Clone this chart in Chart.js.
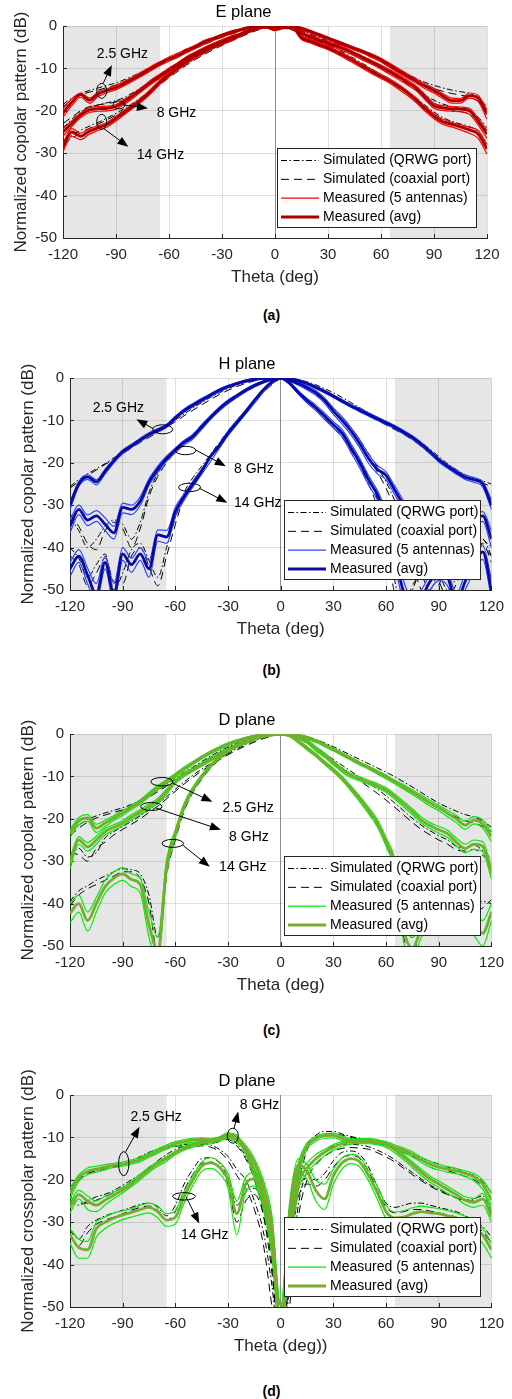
<!DOCTYPE html>
<html lang="en">
<head>
  <meta charset="UTF-8">
  <title>Radiation patterns</title>
  <script src="https://cdn.jsdelivr.net/npm/chart.js"></script>
  <style>
    body { margin: 0; background: #fff; }
    .wrap { position: relative; width: 512px; height: 1399px; }
    .wrap canvas { position: absolute; left: 0; }
    .cap { position: absolute; left: 271.5px; transform: translate(-50%, -50%);
           font: bold 14px 'Liberation Sans', Arial, sans-serif; color: #000; }
  </style>
</head>
<body>
<div class="wrap">
  <canvas id="planeE" width="512" height="288" style="top:0px"></canvas>
  <div class="cap" style="top:315px">(a)</div>
  <canvas id="planeH" width="512" height="288" style="top:352px"></canvas>
  <div class="cap" style="top:670px">(b)</div>
  <canvas id="planeD" width="512" height="288" style="top:708px"></canvas>
  <div class="cap" style="top:1030px">(c)</div>
  <canvas id="planeX" width="512" height="288" style="top:1069px"></canvas>
  <div class="cap" style="top:1391px">(d)</div>
</div>
<script>
// angles (deg)
var theta = [-120,-115,-110,-105,-100,-95,-90,-85,-80,-75,
  -70,-65,-60,-55,-50,-45,-40,-35,-30,-25,
  -20,-15,-10,-5,0,5,10,15,20,25,
  30,35,40,45,50,55,60,65,70,75,
  80,85,90,95,100,105,110,115,120];

// ---- E plane, copolar (dB) ----
var eQ25 = [-18.5,-17,-15.9,-15.2,-14.6,-14,-13.4,-12.6,-11.7,-10.7,
  -9.7,-8.7,-7.8,-6.8,-5.9,-5,-4.1,-3.3,-2.5,-1.8,
  -1.1,-0.6,-0.2,0,0,0,-0.2,-0.6,-1.2,-1.9,
  -2.7,-3.5,-4.3,-5.1,-6,-6.9,-7.9,-9,-10.2,-11.3,
  -12.4,-13.3,-14,-14.6,-15.1,-15.5,-15.9,-17,-19];
var eC25 = [-19,-17.5,-16.3,-15.6,-15.1,-14.5,-13.9,-13.1,-12.1,-11.1,
  -10.1,-9.1,-8.1,-7.1,-6.2,-5.3,-4.4,-3.5,-2.7,-2,
  -1.3,-0.8,-0.3,-0.1,0,-0.1,-0.3,-0.8,-1.4,-2.1,
  -2.9,-3.7,-4.5,-5.4,-6.3,-7.3,-8.3,-9.5,-10.7,-11.9,
  -13,-14,-14.8,-15.4,-15.9,-16.3,-16.8,-17.8,-19.8];
var eHi25 = [-19.6,-17.2,-15.8,-17,-15.5,-14.8,-14,-13,-11.9,-10.7,
  -9.5,-8.4,-7.3,-6.4,-5.4,-4.5,-3.4,-2.7,-1.9,-1.2,
  -0.7,-0.2,0,0,-0.1,0,0,-0.3,-1,-1.8,
  -2.6,-3.4,-4.2,-5,-5.8,-6.6,-7.6,-8.8,-10.1,-11.3,
  -12.5,-13.7,-14.7,-16,-17,-17.1,-15.8,-16.4,-19.8];
var eLo25 = [-21.5,-18.8,-16.8,-18.2,-16.6,-15.7,-15,-14,-12.9,-11.7,
  -10.5,-9.3,-8.3,-7.4,-6.3,-5.3,-4.3,-3.4,-2.6,-1.9,
  -1.2,-0.7,-0.4,-0.3,-0.6,-0.5,-0.3,-1,-1.7,-2.5,
  -3.3,-4.1,-4.9,-5.7,-6.5,-7.5,-8.5,-9.8,-11.1,-12.3,
  -13.5,-14.8,-15.8,-17.1,-18.2,-18.2,-17,-17.8,-22];
var eAvg25 = [-20.5,-18,-16.2,-17.5,-16,-15.2,-14.5,-13.5,-12.4,-11.2,
  -10,-8.8,-7.8,-6.9,-5.8,-4.9,-3.8,-3,-2.2,-1.5,
  -0.9,-0.4,-0.1,0,-0.3,-0.2,0,-0.6,-1.3,-2.1,
  -2.9,-3.7,-4.5,-5.3,-6.1,-7,-8,-9.3,-10.6,-11.8,
  -13,-14.2,-15.2,-16.5,-17.6,-17.6,-16.4,-17,-20.8];

var eQ8 = [-24,-22,-20.3,-19.2,-18.6,-18.1,-17.6,-16.8,-15.6,-14.3,
  -12.8,-11.3,-10,-8.8,-7.5,-6.3,-5.3,-4.3,-3.4,-2.6,
  -1.8,-1.1,-0.5,-0.1,0,-0.1,-0.5,-1.1,-1.9,-2.7,
  -3.5,-4.3,-5.2,-6.2,-7.2,-8.3,-9.4,-10.6,-11.9,-13.3,
  -14.8,-16.3,-17.5,-18.4,-19,-19.4,-20,-21.5,-24];
var eC8 = [-23,-21.5,-20,-19,-18.6,-18.3,-17.9,-17.2,-16,-14.7,
  -13.2,-11.7,-10.3,-9,-7.8,-6.6,-5.5,-4.5,-3.6,-2.7,
  -1.9,-1.2,-0.6,-0.2,0,-0.2,-0.6,-1.3,-2.1,-2.9,
  -3.7,-4.6,-5.5,-6.5,-7.5,-8.6,-9.8,-11,-12.3,-13.7,
  -15.2,-16.8,-18.2,-19.2,-19.8,-20.2,-20.8,-22.3,-25];
var eHi8 = [-24.2,-22.4,-20.5,-19.3,-19,-18.9,-18.5,-17.3,-15.8,-14.3,
  -12.7,-11.3,-9.9,-8.6,-7.2,-6.1,-5,-4.1,-3.2,-2.4,
  -1.7,-0.9,-0.3,0,-0.3,0,-0.1,-1.4,-2.2,-3,
  -3.7,-4.4,-5.2,-6.2,-7.2,-8.2,-9.2,-10.3,-11.5,-12.8,
  -14.2,-16.2,-18.2,-18.8,-19,-19.1,-19.4,-21.8,-24.6];
var eLo8 = [-26,-23.7,-21.6,-20.4,-20.1,-20,-19.6,-18.4,-16.9,-15.3,
  -13.7,-12.3,-10.9,-9.5,-8.1,-7,-5.9,-5,-4.1,-3.2,
  -2.4,-1.5,-0.8,-0.4,-0.9,-0.5,-0.6,-2.3,-3.1,-3.9,
  -4.6,-5.3,-6.1,-7.1,-8.1,-9.1,-10.2,-11.4,-12.6,-13.9,
  -15.3,-17.4,-19.4,-19.9,-20.1,-20.2,-20.8,-23.3,-26.5];
var eAvg8 = [-25,-23,-21,-19.8,-19.5,-19.4,-19,-17.8,-16.3,-14.8,
  -13.2,-11.8,-10.4,-9,-7.6,-6.5,-5.4,-4.5,-3.6,-2.8,
  -2,-1.2,-0.5,-0.1,-0.6,-0.2,-0.3,-1.8,-2.6,-3.4,
  -4.1,-4.8,-5.6,-6.6,-7.6,-8.6,-9.7,-10.8,-12,-13.3,
  -14.7,-16.8,-18.8,-19.3,-19.5,-19.6,-20,-22.5,-25.5];

var eQ14 = [-27,-25.8,-24.6,-23.6,-22.7,-21.7,-20.6,-19.4,-18.1,-16.6,
  -15,-13.4,-11.8,-10.3,-8.9,-7.6,-6.4,-5.3,-4.3,-3.3,
  -2.4,-1.5,-0.8,-0.3,0,-0.3,-0.8,-1.6,-2.5,-3.4,
  -4.4,-5.4,-6.5,-7.7,-8.9,-10.2,-11.5,-12.8,-14.1,-15.5,
  -17,-18.7,-20.3,-21.6,-22.5,-23.1,-23.7,-24.8,-27.5];
var eC14 = [-28,-26.5,-25.2,-24.1,-23.1,-22.1,-21,-19.8,-18.5,-17,
  -15.4,-13.8,-12.2,-10.7,-9.2,-7.9,-6.7,-5.6,-4.6,-3.6,
  -2.7,-1.8,-1,-0.4,-0.1,-0.4,-1,-1.9,-2.8,-3.7,
  -4.7,-5.7,-6.8,-8,-9.3,-10.6,-11.9,-13.2,-14.5,-15.9,
  -17.4,-19.1,-20.8,-22.1,-23,-23.7,-24.4,-25.6,-28.5];
var eHi14 = [-27.6,-24.2,-25.3,-24.2,-23.5,-22.7,-21.3,-19.8,-18.3,-16.7,
  -14.8,-12.7,-11,-9.4,-8,-6.7,-5.6,-4.5,-3.6,-2.8,
  -1.8,-0.9,-0.3,0,-0.5,-0.1,-0.2,-2.4,-3.2,-4,
  -4.8,-5.8,-6.8,-8,-9.2,-10.3,-11.4,-12.5,-13.8,-15.3,
  -17,-19,-20.7,-22,-22.7,-23.3,-23.9,-24.7,-28];
var eLo14 = [-29.6,-26,-26.8,-25.5,-24.6,-23.8,-22.4,-20.8,-19.3,-17.7,
  -15.8,-13.7,-12,-10.4,-8.9,-7.6,-6.4,-5.3,-4.4,-3.6,
  -2.6,-1.6,-0.8,-0.5,-1.1,-0.6,-0.7,-3.2,-4,-4.8,
  -5.6,-6.6,-7.7,-8.9,-10.1,-11.3,-12.4,-13.5,-14.9,-16.4,
  -18.1,-20.1,-21.9,-23.2,-23.8,-24.5,-25.3,-26.5,-30.2];
var eAvg14 = [-28.5,-25,-26,-24.8,-24,-23.2,-21.8,-20.3,-18.8,-17.2,
  -15.3,-13.2,-11.5,-9.9,-8.4,-7.1,-6,-4.9,-4,-3.2,
  -2.2,-1.2,-0.5,-0.2,-0.8,-0.3,-0.4,-2.8,-3.6,-4.4,
  -5.2,-6.2,-7.2,-8.4,-9.6,-10.8,-11.9,-13,-14.3,-15.8,
  -17.5,-19.5,-21.3,-22.6,-23.2,-23.8,-24.5,-25.5,-29];

// ---- H plane, copolar (dB) ----
var hQ25 = [-25.6,-24,-22.6,-21.4,-20.2,-18.8,-17.5,-16.2,-14.9,-13.7,
  -12.5,-11.3,-9.9,-8.5,-7.1,-5.8,-4.6,-3.5,-2.5,-1.7,
  -1,-0.5,-0.2,0,0,-0.1,-0.4,-0.9,-1.6,-2.5,
  -3.5,-4.6,-5.8,-7,-8.2,-9.3,-10.4,-11.5,-12.6,-13.8,
  -15.2,-16.8,-18.5,-20.2,-21.6,-22.8,-23.7,-24.3,-25];
var hC25 = [-26,-24.4,-23,-21.7,-20.4,-19.1,-17.8,-16.5,-15.2,-14,
  -12.8,-11.6,-10.3,-8.9,-7.6,-6.3,-5.1,-3.9,-2.9,-2,
  -1.3,-0.7,-0.3,-0.1,0,-0.2,-0.6,-1.2,-2,-3,
  -4.1,-5.3,-6.5,-7.7,-8.9,-10,-11.1,-12.2,-13.3,-14.6,
  -16.1,-17.8,-19.6,-21.2,-22.3,-23.2,-24,-24.8,-25.6];
var hHi25 = [-29.2,-24.4,-22.8,-24,-21.5,-19.1,-17,-15.6,-14.2,-12.9,
  -11.9,-10.9,-9,-7.3,-6,-4.8,-3.7,-2.6,-1.7,-1.1,
  -0.5,-0.1,0,0,0,0,-0.4,-1.1,-1.9,-2.9,
  -4,-5.1,-6.2,-7.2,-8.2,-9.2,-10.2,-11.2,-12.4,-13.6,
  -15.2,-17,-18.9,-20.4,-21.7,-22.9,-23.5,-24.4,-28.8];
var hLo25 = [-31,-25.6,-23.9,-25.2,-22.6,-20,-17.9,-16.4,-15,-13.7,
  -12.7,-11.7,-9.8,-8.1,-6.8,-5.6,-4.4,-3.3,-2.3,-1.6,
  -1,-0.5,-0.3,-0.2,-0.2,-0.4,-0.9,-1.6,-2.5,-3.5,
  -4.6,-5.8,-6.9,-8,-9,-10,-11,-12,-13.2,-14.5,
  -16.1,-17.9,-19.8,-21.3,-22.7,-23.9,-24.6,-25.7,-31];
var hAvg25 = [-30,-25,-23.3,-24.5,-22,-19.5,-17.4,-16,-14.6,-13.3,
  -12.3,-11.3,-9.4,-7.7,-6.4,-5.2,-4,-2.9,-2,-1.3,
  -0.7,-0.3,-0.1,0,0,-0.2,-0.6,-1.3,-2.2,-3.2,
  -4.3,-5.5,-6.6,-7.6,-8.6,-9.6,-10.6,-11.6,-12.8,-14,
  -15.6,-17.4,-19.3,-20.8,-22.2,-23.4,-24,-25,-30];

var hQ8 = [-33,-36,-40,-38,-35,-33.5,-34.5,-38,-34,-27,
  -22.5,-19.5,-17,-15,-13.2,-11.2,-9.2,-7.3,-5.6,-4.1,
  -2.8,-1.7,-0.8,-0.2,0,-0.3,-1.1,-2.1,-3.4,-5,
  -7,-9.3,-11.8,-14.6,-17.8,-21,-24.5,-29,-34,-40,
  -46,-50,-45,-41,-39,-37.5,-37,-38,-40];
var hC8 = [-32,-35,-39,-40.5,-36,-34,-35.5,-40,-35.5,-28,
  -23.2,-20,-17.4,-15.3,-13.4,-11.4,-9.4,-7.5,-5.8,-4.3,
  -3,-1.9,-1,-0.4,-0.1,-0.5,-1.3,-2.4,-3.8,-5.5,
  -7.6,-10,-12.6,-15.5,-18.8,-22.2,-26,-31,-37,-44,
  -50,-53,-49,-43,-40.5,-39,-38.5,-39.5,-42];
var hHi8 = [-33.5,-30,-32.3,-31.3,-33,-35,-29.5,-30,-28,-23.8,
  -20.8,-18.4,-16.5,-14.7,-13.3,-11,-8.9,-6.9,-5.2,-3.9,
  -2.6,-1.5,-0.7,-0.1,0,-0.3,-1,-1.9,-3,-4.7,
  -7.1,-9.2,-11.7,-14.6,-18,-20.6,-22.2,-25.5,-29,-31.8,
  -34.5,-36.5,-39,-41.5,-40,-36.5,-32.8,-31.5,-36];
var hLo8 = [-36.5,-32.2,-34.8,-33.8,-36,-38,-31.8,-32.2,-30,-25.3,
  -22.2,-19.6,-17.6,-15.8,-14.4,-12.1,-9.8,-7.8,-6.1,-4.6,
  -3.3,-2.1,-1.2,-0.5,-0.2,-0.8,-1.7,-2.8,-4.1,-6,
  -8.6,-10.9,-13.4,-16.5,-20.1,-22.6,-24,-27.6,-31,-34.3,
  -37.5,-39.5,-43,-46,-44,-40,-35.5,-33.8,-40];
var hAvg8 = [-35,-31,-33.5,-32.5,-34.5,-36.5,-30.5,-31,-29,-24.5,
  -21.5,-19,-17,-15.2,-13.8,-11.5,-9.3,-7.3,-5.6,-4.2,
  -2.9,-1.8,-0.9,-0.3,0,-0.5,-1.3,-2.3,-3.5,-5.3,
  -7.8,-10,-12.5,-15.5,-19,-21.5,-23,-26.5,-30,-33,
  -36,-38,-41,-44,-42,-38,-34,-32.5,-38];

var hQ14 = [-40,-42.5,-47,-44,-41.5,-50,-46,-40.5,-39,-43,
  -47,-40,-33,-27,-23.5,-20.8,-18,-15.2,-12.5,-10,
  -7.6,-5.3,-3.2,-1.4,-0.2,-1.1,-3,-5,-7,-9,
  -11.2,-13.5,-16.2,-19.5,-23.5,-28.5,-36,-48,-55,-50,
  -45,-44,-46,-50,-47,-42,-39,-38,-42];
var hC14 = [-42,-44,-49,-46,-42.5,-48,-48.5,-42,-40,-44.5,
  -49,-42,-34.5,-28,-24.3,-21.5,-18.6,-15.8,-13,-10.5,
  -8,-5.6,-3.5,-1.6,-0.3,-1.3,-3.3,-5.4,-7.4,-9.5,
  -11.7,-14.1,-17,-20.5,-25,-30.5,-39,-51,-54,-49,
  -46,-45.5,-48,-52,-48.5,-43.5,-40.5,-39,-43.5];
var hHi14 = [-43.5,-40.5,-44.8,-48.5,-42,-48.5,-40,-42.5,-40,-43,
  -35.8,-36,-30.5,-27.3,-24.4,-21.4,-18.4,-15.5,-12.5,-10,
  -7.6,-5.1,-2.7,-0.8,0,-1,-3,-4.8,-6.4,-8.3,
  -10.3,-12.2,-15.5,-19,-23,-26.5,-31.5,-40,-48,-52,
  -50,-46.5,-44.5,-45.5,-51,-46,-42.5,-39.5,-47.5];
var hLo14 = [-46.8,-43.5,-48.5,-53,-45,-53,-43,-45.8,-43,-47,
  -38.5,-39,-32.6,-28.8,-25.7,-22.7,-19.7,-16.6,-13.6,-11,
  -8.5,-6,-3.4,-1.3,-0.2,-1.5,-3.8,-5.9,-7.7,-9.8,
  -11.8,-13.9,-17.6,-21.2,-25.2,-28.8,-34.5,-44,-53,-56,
  -54,-50,-47.8,-49,-55,-50,-45.8,-42.8,-52];
var hAvg14 = [-45,-42,-46.5,-51,-43.5,-51,-41.5,-44,-41.5,-45,
  -37,-37.5,-31.5,-28,-25,-22,-18.5,-16,-13,-10.5,
  -8,-5.3,-2.8,-0.9,0,-1.2,-3.4,-5.3,-7,-9,
  -11,-13,-16.5,-20,-24,-27.5,-33,-42,-50.5,-54,
  -52,-48,-46,-47,-53,-48,-44,-41,-50];

// ---- D plane, copolar (dB) ----
var cQ25 = [-23,-21.5,-20.2,-19.3,-18.6,-18,-17.4,-16.6,-15.6,-14.4,
  -13.2,-11.9,-10.5,-9.1,-7.8,-6.5,-5.2,-4.1,-3.1,-2.2,
  -1.4,-0.8,-0.3,0,0,0,-0.2,-0.6,-1.3,-2.1,
  -3,-4,-5,-6,-7,-8,-9,-10.1,-11.3,-12.5,
  -13.8,-15.1,-16.3,-17.3,-18.2,-19,-19.6,-20.5,-22];
var cC25 = [-24,-22.2,-20.8,-19.8,-19.1,-18.5,-17.9,-17.1,-16.1,-14.9,
  -13.6,-12.3,-10.9,-9.5,-8.1,-6.8,-5.5,-4.4,-3.3,-2.4,
  -1.6,-0.9,-0.4,-0.1,0,-0.1,-0.4,-0.9,-1.6,-2.5,
  -3.5,-4.5,-5.6,-6.7,-7.8,-8.9,-10,-11.2,-12.4,-13.6,
  -14.9,-16.2,-17.5,-18.6,-19.6,-20.4,-21,-21.8,-23];
var cHi25 = [-22.6,-19.7,-19,-21.3,-20.3,-19.2,-18.1,-16.8,-15.5,-13.8,
  -12.1,-10.8,-9.3,-7.8,-6.5,-5.2,-4,-3,-2.1,-1.4,
  -0.8,-0.3,0,0,0,0,-0.1,-0.6,-1.3,-2.3,
  -3.3,-4.4,-5.5,-6.6,-7.6,-8.6,-9.7,-10.9,-12,-13.2,
  -14.4,-15.7,-16.8,-18,-19.2,-20.6,-19.5,-20.3,-23.2];
var cLo25 = [-24.4,-21.4,-20.6,-23.2,-21.8,-20.4,-19.2,-17.8,-16.5,-14.8,
  -13.1,-11.7,-10.2,-8.7,-7.2,-5.9,-4.7,-3.7,-2.8,-1.9,
  -1.3,-0.8,-0.4,-0.2,-0.3,-0.3,-0.5,-1.2,-2,-3,
  -4,-5.1,-6.2,-7.3,-8.3,-9.4,-10.6,-11.8,-13,-14.3,
  -15.6,-17,-18.1,-19.5,-20.9,-22.5,-21.2,-22.2,-25.4];
var cAvg25 = [-23.4,-20.5,-19.8,-22.2,-21,-19.8,-18.6,-17.3,-16,-14.3,
  -12.6,-11.2,-9.7,-8.2,-6.8,-5.5,-4.3,-3.3,-2.4,-1.6,
  -1,-0.5,-0.2,0,-0.1,-0.1,-0.3,-0.9,-1.6,-2.6,
  -3.6,-4.7,-5.8,-6.9,-7.9,-9,-10.1,-11.3,-12.5,-13.7,
  -15,-16.3,-17.4,-18.7,-20,-21.5,-20.3,-21.2,-24.2];

var cQ8 = [-29,-27,-29,-28,-24.5,-23,-21.8,-20.6,-19.3,-17.9,
  -16.4,-14.8,-13,-11.3,-9.7,-8.3,-7,-5.8,-4.6,-3.5,
  -2.5,-1.6,-0.9,-0.3,0,-0.3,-0.9,-1.9,-3.2,-4.6,
  -6,-7.4,-8.8,-10.2,-11.6,-13,-14.6,-16.3,-18.1,-19.9,
  -21.5,-22.8,-24,-25,-26.5,-26.8,-26.2,-27.5,-29.5];
var cC8 = [-28,-28.5,-30,-27,-25.5,-23.8,-22.5,-21.3,-20,-18.5,
  -17,-15.3,-13.5,-11.8,-10.2,-8.7,-7.4,-6.1,-4.9,-3.8,
  -2.8,-1.9,-1.1,-0.5,-0.1,-0.4,-1.1,-2.2,-3.5,-5,
  -6.5,-8,-9.5,-11,-12.5,-14,-15.6,-17.3,-19.1,-20.9,
  -22.5,-23.8,-25,-26,-27.3,-27.6,-27.2,-28.6,-30.5];
var cHi8 = [-29.3,-24.2,-25.6,-24.1,-22.3,-21.4,-20.4,-19,-17.8,-16.5,
  -15.2,-13,-10.8,-9.2,-8,-6.8,-5.6,-4.4,-3.4,-2.4,
  -1.7,-0.9,-0.4,0,0,0,-0.5,-1.4,-3,-4.5,
  -6.3,-8,-9.3,-10.1,-10.9,-11.7,-12.7,-14.2,-15.9,-17.7,
  -19.6,-20.9,-21.8,-22.7,-24.6,-26,-25,-25.4,-31.5];
var cLo8 = [-31.8,-26,-27.6,-26,-23.8,-22.7,-21.6,-20.2,-19,-17.7,
  -16.4,-14.2,-11.7,-10,-8.8,-7.6,-6.4,-5.2,-4.2,-3.2,
  -2.3,-1.5,-0.8,-0.4,-0.2,-0.4,-1.1,-2.2,-4,-5.5,
  -7.3,-9,-10.3,-11.1,-11.9,-12.7,-13.8,-15.4,-17.2,-19,
  -21,-22.3,-23.4,-24.4,-26.4,-28,-27.2,-27.8,-34.2];
var cAvg8 = [-30.5,-25,-26.6,-25,-23,-22,-21,-19.6,-18.4,-17.1,
  -15.8,-13.6,-11.2,-9.6,-8.4,-7.2,-6,-4.8,-3.8,-2.8,
  -2,-1.2,-0.6,-0.2,0,-0.2,-0.8,-1.8,-3.5,-5,
  -6.8,-8.5,-9.8,-10.6,-11.4,-12.2,-13.2,-14.8,-16.5,-18.3,
  -20.3,-21.6,-22.6,-23.5,-25.5,-27,-26,-26.5,-32.8];

var cQ14 = [-39.5,-37,-35.8,-34.5,-33.5,-32.5,-31.8,-32,-33,-38,
  -48,-32,-24,-17.5,-13.3,-10.3,-7.8,-5.8,-4.2,-2.9,
  -1.8,-0.9,-0.4,-0.1,0,-0.3,-1.5,-3,-4.7,-6.5,
  -8.3,-10.3,-12.6,-15,-17.8,-20.8,-25,-30.5,-44,-48,
  -44,-42,-40.5,-40,-40.5,-41.5,-41,-39.5,-40];
var cC14 = [-40.5,-38,-36.5,-35.5,-34.5,-33.5,-32.5,-32.5,-34,-40,
  -52,-33.5,-25,-18.2,-13.8,-10.7,-8.1,-6.1,-4.5,-3.1,
  -2,-1.1,-0.5,-0.2,-0.1,-0.5,-1.7,-3.3,-5,-6.8,
  -8.6,-10.6,-13,-15.5,-18.3,-21.5,-26,-32,-48,-52,
  -45,-43,-42,-41,-41.5,-42.5,-42,-41,-39];
var cHi14 = [-40,-38,-42,-38.5,-34.5,-32.5,-31.5,-33,-34,-42,
  -48,-29.5,-22.5,-16.3,-12.5,-9.6,-7.2,-5.2,-3.7,-2.4,
  -1.4,-0.6,-0.1,0,0,-0.2,-1.5,-3,-4.6,-6.4,
  -8.1,-10,-12.3,-14.7,-17.3,-20.2,-24.5,-29.5,-43,-48,
  -44,-41,-39,-38.5,-39.5,-41,-42.5,-44,-40];
var cLo14 = [-44.5,-42,-46.5,-42,-37.5,-35.5,-34.5,-36,-37.5,-48,
  -54,-33,-24.5,-17.8,-13.6,-10.5,-7.9,-5.9,-4.3,-3,
  -1.9,-1,-0.5,-0.2,-0.2,-0.6,-2.1,-3.8,-5.4,-7.2,
  -9,-11,-13.4,-16,-18.8,-21.9,-26.5,-32.5,-49,-53,
  -48,-45,-43,-42,-43,-45,-47.5,-50,-44];
var cAvg14 = [-42.3,-40,-44,-40,-36,-34,-33,-34.3,-35.5,-45,
  -51,-31.3,-23.5,-17,-13,-10,-7.5,-5.5,-4,-2.7,
  -1.6,-0.8,-0.3,0,0,-0.4,-1.8,-3.4,-5,-6.8,
  -8.5,-10.5,-12.8,-15.3,-18,-21,-25.5,-31,-46,-50.5,
  -46,-43,-41,-40,-41,-43,-45,-47,-42];

// ---- D plane, crosspolar (dB) ----
var xQ25 = [-22,-19.5,-18.3,-17.8,-17.2,-16.8,-16.5,-15.6,-14.5,-13.5,
  -12.8,-12.2,-12,-11.7,-11.5,-11.3,-11,-10.5,-10,-11.5,
  -14.5,-19,-26,-38,-60,-40,-20,-12,-9.5,-8.6,
  -8.6,-9.2,-9.8,-10.2,-10.5,-10.8,-11.5,-12.2,-13,-13.9,
  -14.8,-15.6,-16.3,-17,-17.6,-18.3,-19,-20.5,-23];
var xC25 = [-23,-20,-18.5,-18,-17.6,-17,-16.5,-15.8,-15,-14,
  -13.3,-12.5,-12.1,-11.9,-11.8,-11.7,-11.5,-11,-10.5,-12,
  -15,-20,-28,-42,-62,-42,-22,-13,-10,-9.2,
  -9.1,-9.5,-10,-10.5,-10.9,-11.3,-12,-12.8,-13.6,-14.4,
  -15.3,-16.2,-17,-17.8,-18.5,-19.2,-20,-21.5,-24];
var xHi25 = [-22,-18.8,-17.2,-16.8,-16.4,-16.1,-15.8,-15.3,-14.7,-13.7,
  -12.7,-11.8,-11,-10.5,-10.2,-10.1,-10.2,-9.9,-9.4,-10,
  -11.8,-15,-20,-28.5,-50,-27,-16,-11.3,-9.8,-9.1,
  -9,-9.7,-10.3,-10.5,-10.5,-10.7,-11,-11.8,-12.5,-13.4,
  -14.7,-15.7,-16.4,-16.9,-17.3,-17.9,-18.5,-20,-23.2];
var xLo25 = [-24.5,-20.3,-18.8,-18.2,-17.6,-17.1,-16.8,-16.3,-15.7,-14.7,
  -13.7,-12.8,-12,-11.5,-11.1,-11,-11.1,-10.8,-10.3,-11.2,
  -13.3,-17.2,-23,-34,-58,-33,-19,-12.8,-10.9,-10.2,
  -10.1,-10.7,-11.3,-11.5,-11.5,-11.7,-12,-12.8,-13.6,-14.6,
  -15.9,-17,-17.7,-18.2,-18.6,-19.2,-20.2,-22.2,-26.2];
var xAvg25 = [-23.2,-19.5,-18,-17.5,-17,-16.6,-16.3,-15.8,-15.2,-14.2,
  -13.2,-12.3,-11.5,-11,-10.6,-10.5,-10.6,-10.3,-9.8,-10.5,
  -12.5,-16,-21.5,-31,-55,-30,-17.5,-12,-10.3,-9.6,
  -9.5,-10.2,-10.8,-11,-11,-11.2,-11.5,-12.3,-13,-14,
  -15.3,-16.3,-17,-17.5,-17.9,-18.5,-19.3,-21,-24.8];

var xQ8 = [-25,-26,-25,-24,-23.4,-22.5,-21.3,-20,-18.7,-17.2,
  -15.5,-14,-12.8,-12,-11.6,-11.4,-11.8,-12.8,-14.5,-17.5,
  -20,-25,-32,-45,-62,-45,-26,-18,-15,-13.2,
  -12,-11.6,-11.6,-11.8,-12.2,-13,-14,-15.3,-16.8,-18.3,
  -19.8,-21.2,-22.3,-23.3,-24.2,-24.8,-24.5,-23.8,-27];
var xC8 = [-24,-25.5,-25.5,-24.8,-24,-23,-21.8,-20.5,-19.2,-17.8,
  -16.3,-14.8,-13.5,-12.6,-12.2,-12,-12.3,-13.3,-15.5,-19,
  -22,-27,-35,-50,-65,-50,-29,-20,-16.5,-14.5,
  -13.2,-12.6,-12.4,-12.5,-12.8,-13.6,-14.6,-15.8,-17.3,-18.8,
  -20.2,-21.5,-22.6,-23.5,-24.3,-25,-25,-24.5,-27.8];
var xHi8 = [-25.5,-22.5,-23.8,-25,-23.8,-22.9,-21.8,-20.4,-18.7,-17,
  -15.7,-14.5,-13.2,-12.1,-11.4,-10.9,-10.6,-9.9,-8.9,-9.5,
  -12.5,-17.5,-23.5,-32,-50,-32,-19.5,-16,-14,-12.8,
  -11.7,-11,-10.5,-10.3,-10.3,-10.5,-11.2,-12.4,-14,-15.8,
  -17.5,-19.1,-20.3,-21.5,-22.8,-24,-24.4,-23.2,-27.3];
var xLo8 = [-27.8,-24.5,-27,-27.5,-25.9,-24.4,-23.1,-21.6,-20,-18.2,
  -16.8,-15.6,-14.1,-13,-12.3,-11.8,-11.5,-10.8,-9.8,-10.6,
  -14,-19.7,-26.8,-38,-58,-38,-22.6,-18.4,-16,-14.3,
  -13,-12.1,-11.6,-11.3,-11.3,-11.6,-12.4,-13.7,-15.3,-17.1,
  -19,-20.6,-21.8,-23.2,-24.3,-25.8,-26.5,-26,-30];
var xAvg8 = [-26.5,-23.5,-25,-26,-24.8,-23.6,-22.4,-21,-19.3,-17.6,
  -16.2,-15,-13.6,-12.5,-11.8,-11.3,-11,-10.3,-9.3,-10,
  -13.2,-18.5,-25,-35,-55,-35,-21,-17.2,-15,-13.5,
  -12.3,-11.5,-11,-10.8,-10.8,-11,-11.8,-13,-14.6,-16.4,
  -18.2,-19.8,-21,-22.3,-23.5,-24.8,-25.3,-24.5,-28.7];

var xQ14 = [-32,-34,-31,-29.5,-28.5,-27.8,-27.2,-26.5,-25.8,-25.5,
  -26.5,-28.5,-26,-21,-17.5,-15,-14.8,-16,-19.5,-26,
  -23,-22,-26,-35,-60,-30,-22,-19.5,-20,-18.5,
  -15.5,-13.5,-13.2,-14,-17,-21.5,-25.5,-26.5,-26,-25.5,
  -25.5,-26,-26.5,-27,-27.5,-28.5,-29.5,-31,-33.5];
var xC14 = [-33.5,-35.5,-32.5,-30.5,-29.5,-28.8,-28,-27.2,-26.5,-26.2,
  -27.2,-29.5,-27.5,-22.5,-18.7,-16.2,-15.8,-17.2,-21,-30,
  -25,-23.5,-28,-40,-63,-34,-24,-21,-21.5,-20,
  -17,-14.8,-14.3,-15,-18,-22.5,-26.5,-27.8,-27.5,-27,
  -27,-27.4,-27.8,-28.3,-28.8,-29.7,-30.7,-32.2,-35];
var xHi14 = [-31.5,-34,-34.5,-30,-28.8,-27.8,-27.3,-26.8,-26,-25.5,
  -26.2,-28,-27.2,-22.8,-19,-15.8,-14.8,-15.8,-18.5,-25,
  -19.5,-18.2,-22,-30.5,-50,-25.5,-15,-16.5,-20,-21,
  -17.5,-14.8,-14,-14.7,-17.8,-21.5,-26,-27.6,-27.3,-26.6,
  -26.2,-26.5,-26.8,-27.3,-27.8,-28.6,-30,-31.5,-35];
var xLo14 = [-35,-38.5,-38.5,-33.5,-31.5,-30.3,-29.4,-28.8,-28.2,-27.8,
  -29,-31,-30.4,-25.5,-21.3,-18,-17.3,-18.5,-22,-33,
  -22.8,-21.5,-26.5,-36,-58,-31,-18.3,-20,-25,-27,
  -21,-17.4,-16.2,-17,-20.3,-24.6,-29.2,-30.5,-30.3,-29.5,
  -29,-29.3,-29.5,-30,-30.3,-31.5,-33,-35,-38.5];
var xAvg14 = [-33,-36,-36.5,-31.5,-30,-29,-28.3,-27.7,-27,-26.5,
  -27.5,-29.5,-28.8,-24,-20,-16.8,-16,-17,-20,-28,
  -21,-19.8,-24,-33,-55,-28,-16.5,-18,-22.5,-24.5,
  -19,-16,-15,-15.8,-19,-23,-27.5,-29,-28.8,-28,
  -27.5,-27.8,-28,-28.5,-29,-30,-31.5,-33,-36.5];

// grey bands outside +/-65 deg
var shade = [[-120, -65], [65, 120]];

var panels = [
  { id: 'planeE', left: 63, title: 'E plane', yTitle: 'Normalized copolar pattern (dB)', xTitle: 'Theta (deg)',
    thin: '#ff0000', avg: '#a80000',
    curves: [[eQ25, eC25, eHi25, eLo25, eAvg25], [eQ8, eC8, eHi8, eLo8, eAvg8], [eQ14, eC14, eHi14, eLo14, eAvg14]],
    labels: [[-100.9, -6.6, '2.5 GHz'], [-67, -20.5, '8 GHz'], [-78.3, -30.4, '14 GHz']],
    rings: [[-98.1, -15.3, 5, 7.5], [-88.3, -18.6, 6, 4], [-98.1, -22.6, 5, 7.5]],
    arrows: [[-97.2, -13.5, -92.4, -9.2], [-86, -18.6, -71.9, -19.4], [-97.2, -24.1, -83, -28.5]] },
  { id: 'planeH', left: 70, title: 'H plane', yTitle: 'Normalized copolar pattern (dB)', xTitle: 'Theta (deg)',
    thin: '#2a46ff', avg: '#0a0aa0',
    curves: [[hQ25, hC25, hHi25, hLo25, hAvg25], [hQ8, hC8, hHi8, hLo8, hAvg8], [hQ14, hC14, hHi14, hLo14, hAvg14]],
    labels: [[-107.1, -7.1, '2.5 GHz'], [-26.6, -21.5, '8 GHz'], [-26.6, -29.5, '14 GHz']],
    rings: [[-67.2, -12.1, 10, 4.5], [-54.2, -17.1, 10.3, 4.2], [-51.9, -25.8, 11, 4.2]],
    arrows: [[-72.8, -11.9, -82.2, -9.7], [-48.3, -17, -31.3, -20.8], [-46.4, -26, -30.4, -29.4]] },
  { id: 'planeD', left: 70, title: 'D plane', yTitle: 'Normalized copolar pattern (dB)', xTitle: 'Theta (deg)',
    thin: '#00ee00', avg: '#77ac30',
    curves: [[cQ25, cC25, cHi25, cLo25, cAvg25], [cQ8, cC8, cHi8, cLo8, cAvg8], [cQ14, cC14, cHi14, cLo14, cAvg14]],
    labels: [[-33.2, -17.5, '2.5 GHz'], [-29.4, -24.3, '8 GHz'], [-35.1, -31.4, '14 GHz']],
    rings: [[-67.7, -11.25, 11, 4.2], [-73.7, -17.1, 10.7, 4], [-61.5, -25.8, 10.7, 4]],
    arrows: [[-61.5, -11.6, -38.9, -16], [-70.9, -17.5, -34.1, -22.6], [-55.9, -26.2, -40.4, -31.3]] },
  { id: 'planeX', left: 70, title: 'D plane', yTitle: 'Normalized crosspolar pattern (dB)', xTitle: 'Theta (deg))',
    thin: '#00ee00', avg: '#77ac30',
    curves: [[xQ25, xC25, xHi25, xLo25, xAvg25], [xQ8, xC8, xHi8, xLo8, xAvg8], [xQ14, xC14, xHi14, xLo14, xAvg14]],
    labels: [[-85.6, -5.2, '2.5 GHz'], [-23.4, -2.4, '8 GHz'], [-56.8, -33, '14 GHz']],
    rings: [[-89.4, -16.2, 5.2, 12], [-27.3, -9.6, 5.5, 7.5], [-55.1, -23.9, 11.3, 3.7]],
    arrows: [[-88.3, -13.4, -80.4, -7.5], [-26.6, -7.9, -24.2, -3.9], [-53.9, -24, -46.4, -30.3]] }
];

var dashDot = [6, 2.5, 1.5, 2.5];
var dashed = [8, 5];
var byId = {};
panels.forEach(function (p) { byId[p.id] = p; });

Chart.defaults.font.family = "'Liberation Sans', Arial, sans-serif";
Chart.defaults.color = '#262626';

function pts(arr) {
  return theta.map(function (t, i) { return { x: t, y: arr[i] }; });
}

// grey bands, inward ticks, frequency notes and the boxed legend
var decor = {
  id: 'decor',
  beforeDraw: function (chart) {
    var ctx = chart.ctx, a = chart.chartArea, x = chart.scales.x;
    ctx.save();
    ctx.fillStyle = '#e6e6e6';
    shade.forEach(function (r) {
      var x0 = x.getPixelForValue(r[0]), x1 = x.getPixelForValue(r[1]);
      ctx.fillRect(x0, a.top, x1 - x0, a.bottom - a.top);
    });
    ctx.restore();
  },
  beforeDatasetsDraw: function (chart) {
    var ctx = chart.ctx, a = chart.chartArea, x = chart.scales.x, y = chart.scales.y;
    ctx.save();
    ctx.strokeStyle = '#262626';
    ctx.lineWidth = 1;
    ctx.beginPath();
    x.ticks.forEach(function (t) {
      var px = Math.round(x.getPixelForValue(t.value)) + 0.5;
      ctx.moveTo(px, a.bottom); ctx.lineTo(px, a.bottom - 4);
    });
    y.ticks.forEach(function (t) {
      var py = Math.round(y.getPixelForValue(t.value)) + 0.5;
      ctx.moveTo(a.left, py); ctx.lineTo(a.left + 4, py);
    });
    ctx.stroke();
    ctx.restore();
  },
  afterDatasetsDraw: function (chart) {
    var p = byId[chart.canvas.id];
    var ctx = chart.ctx, x = chart.scales.x, y = chart.scales.y;
    ctx.save();
    ctx.strokeStyle = '#000';
    ctx.fillStyle = '#000';
    ctx.lineWidth = 1;
    p.rings.forEach(function (r) {
      ctx.beginPath();
      ctx.ellipse(x.getPixelForValue(r[0]), y.getPixelForValue(r[1]), r[2], r[3], 0, 0, Math.PI * 2);
      ctx.stroke();
    });
    p.arrows.forEach(function (r) {
      var x0 = x.getPixelForValue(r[0]), y0 = y.getPixelForValue(r[1]);
      var x1 = x.getPixelForValue(r[2]), y1 = y.getPixelForValue(r[3]);
      var ang = Math.atan2(y1 - y0, x1 - x0);
      ctx.beginPath();
      ctx.moveTo(x0, y0);
      ctx.lineTo(x1 - 8 * Math.cos(ang), y1 - 8 * Math.sin(ang));
      ctx.stroke();
      ctx.beginPath();
      ctx.moveTo(x1, y1);
      ctx.lineTo(x1 - 11 * Math.cos(ang) + 4.2 * Math.sin(ang), y1 - 11 * Math.sin(ang) - 4.2 * Math.cos(ang));
      ctx.lineTo(x1 - 11 * Math.cos(ang) - 4.2 * Math.sin(ang), y1 - 11 * Math.sin(ang) + 4.2 * Math.cos(ang));
      ctx.closePath();
      ctx.fill();
    });
    ctx.font = "14px 'Liberation Sans', Arial, sans-serif";
    ctx.textAlign = 'left';
    ctx.textBaseline = 'middle';
    p.labels.forEach(function (l) {
      ctx.fillText(l[2], x.getPixelForValue(l[0]), y.getPixelForValue(l[1]));
    });
    ctx.restore();
  },
  afterDraw: function (chart) {
    var p = byId[chart.canvas.id];
    var ctx = chart.ctx, a = chart.chartArea;
    var L = a.left + 214, T = a.top + 122;
    var W = a.right - 11 - L, H = a.bottom - 11 - T;
    var rows = [
      { text: 'Simulated (QRWG port)', color: '#000', w: 1, dash: dashDot },
      { text: 'Simulated (coaxial port)', color: '#000', w: 1, dash: dashed },
      { text: 'Measured (5 antennas)', color: p.thin, w: 1.2, dash: [] },
      { text: 'Measured (avg)', color: p.avg, w: 3, dash: [] }
    ];
    ctx.save();
    ctx.fillStyle = '#fff';
    ctx.fillRect(L, T, W, H);
    ctx.strokeStyle = '#262626';
    ctx.lineWidth = 1;
    ctx.strokeRect(Math.round(L) + 0.5, Math.round(T) + 0.5, Math.round(W), Math.round(H));
    ctx.font = "14px 'Liberation Sans', Arial, sans-serif";
    ctx.textBaseline = 'middle';
    rows.forEach(function (r, i) {
      var yy = T + 12.5 + i * 18.85;
      ctx.beginPath();
      ctx.setLineDash(r.dash);
      ctx.strokeStyle = r.color;
      ctx.lineWidth = r.w;
      ctx.moveTo(L + 4, yy);
      ctx.lineTo(L + 42, yy);
      ctx.stroke();
      ctx.setLineDash([]);
      ctx.fillStyle = '#000';
      ctx.fillText(r.text, L + 46, yy);
    });
    ctx.restore();
  }
};

panels.forEach(function (p) {
  var sets = [];
  p.curves.forEach(function (c) {
    sets.push({ data: pts(c[0]), borderColor: '#000', borderWidth: 1, borderDash: dashDot, order: 2 });
    sets.push({ data: pts(c[1]), borderColor: '#000', borderWidth: 1, borderDash: dashed, order: 2 });
    sets.push({ data: pts(c[2]), borderColor: p.thin, borderWidth: 1.2, order: 1 });
    sets.push({ data: pts(c[3]), borderColor: p.thin, borderWidth: 1.2, order: 1 });
    sets.push({ data: pts(c[4]), borderColor: p.avg, borderWidth: 2.8, order: 0 });
  });

  new Chart(document.getElementById(p.id), {
    type: 'line',
    data: { datasets: sets },
    options: {
      responsive: false,
      animation: false,
      events: [],
      clip: 0,
      layout: { padding: { left: 0, right: 512 - p.left - 424, top: 3, bottom: 0 } },
      elements: {
        point: { radius: 0 },
        line: { cubicInterpolationMode: 'monotone', fill: false }
      },
      plugins: {
        legend: { display: false },
        tooltip: { enabled: false },
        title: {
          display: true, text: p.title, color: '#000',
          font: { size: 16.5, weight: 'normal' }, padding: { top: 0, bottom: 3.2 }
        }
      },
      scales: {
        x: {
          type: 'linear', min: -120, max: 120,
          ticks: { stepSize: 30, autoSkip: false, maxRotation: 0, padding: 8, font: { size: 15 } },
          grid: {
            drawTicks: false,
            color: function (c) { return c.tick && c.tick.value === 0 ? '#8c8c8c' : 'rgba(38,38,38,0.15)'; }
          },
          border: { display: true, color: '#262626', width: 1 },
          title: { display: true, text: p.xTitle, font: { size: 17 }, padding: { top: 0, bottom: 0.8 } },
          afterFit: function (s) { s.height = 50; }
        },
        y: {
          type: 'linear', min: -50, max: 0,
          ticks: { stepSize: 10, padding: 6, font: { size: 15 } },
          grid: { drawTicks: false, color: 'rgba(38,38,38,0.15)' },
          border: { display: true, color: '#262626', width: 1 },
          title: { display: true, text: p.yTitle, font: { size: 17 }, padding: { top: p.left - 52.2, bottom: 0 } },
          afterFit: function (s) { s.width = p.left; }
        }
      }
    },
    plugins: [decor]
  });
});
</script>
</body>
</html>
